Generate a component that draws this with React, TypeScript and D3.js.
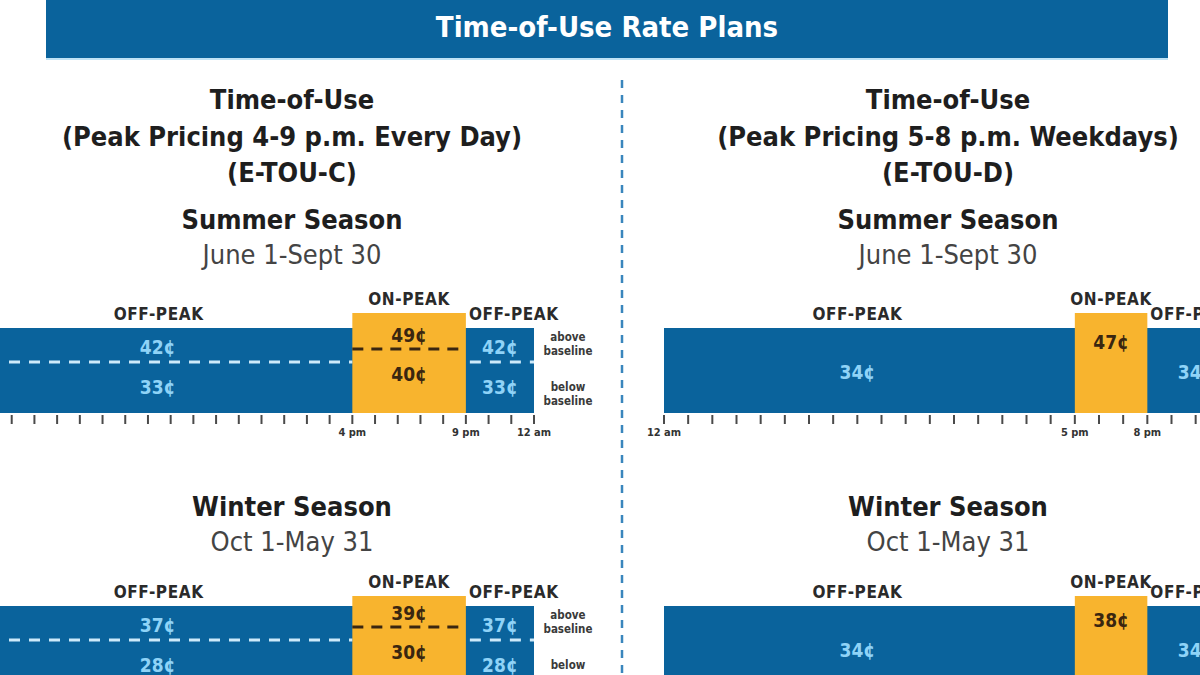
import React from "react";
import * as d3 from "d3";

// ---------- data ----------
const HOURS = d3.range(0, 25);
const PLAN_NAMES = ["Time-of-Use", "Time-of-Use"];
const PLAN_PEAK_TEXT = ["(Peak Pricing 4-9 p.m. Every Day)", "(Peak Pricing 5-8 p.m. Weekdays)"];
const PLAN_CODES = ["(E-TOU-C)", "(E-TOU-D)"];
const PEAK_START = [16, 17];
const PEAK_END = [21, 20];
const TICK_LABEL_HOURS = [[16, 21, 24], [0, 17, 20]];
const SEASONS = ["Summer Season", "Winter Season"];
const SEASON_DATES = ["June 1-Sept 30", "Oct 1-May 31"];
// E-TOU-C (tiered), per season [summer, winter], cents/kWh
const ETOUC_OFF_ABOVE = [42, 37];
const ETOUC_OFF_BELOW = [33, 28];
const ETOUC_ON_ABOVE = [49, 39];
const ETOUC_ON_BELOW = [40, 30];
// E-TOU-D, per season [summer, winter]
const ETOUD_OFF = [34, 34];
const ETOUD_ON = [47, 38];

// ---------- style ----------
const BLUE = "#0a639c";
const ORANGE = "#f8b42e";
const LIGHT = "#8fd3f7";
const DARK_ON_ORANGE = "#3a2610";
const FONT = "'DejaVu Sans Condensed', 'DejaVu Sans', sans-serif";

const W = 1200, H = 675;

const xScales = [
  d3.scaleLinear().domain([0, 24]).range([-11, 534]),
  d3.scaleLinear().domain([0, 24]).range([664, 1244]),
];
const PANEL_CX = [292, 948];
const BAR_TOP = [328, 606];
const ORANGE_TOP = [313, 596];
const BAR_H = 85;
const HEAD_Y = [220, 507];

const cents = (v: number) => `${v}¢`;
const hourLabel = (h: number) => (h === 0 || h === 24 ? "12 am" : h > 12 ? `${h - 12} pm` : `${h} am`);

function Bar({ plan, season }: { plan: number; season: number }) {
  const x = xScales[plan];
  const top = BAR_TOP[season];
  const bottom = top + BAR_H;
  const oTop = ORANGE_TOP[season];
  const ps = PEAK_START[plan], pe = PEAK_END[plan];
  const offMid1 = (x(0) + x(ps)) / 2 - 12;
  const offMid2 = (x(pe) + x(24)) / 2;
  const onMid = (x(ps) + x(pe)) / 2;
  const tiered = plan === 0;
  const valStyle = { fontFamily: FONT, fontWeight: 700, fontSize: 19 } as const;
  const lblStyle = { fontFamily: FONT, fontWeight: 700, fontSize: 17, fill: "#2a2a2a", letterSpacing: 0.6 } as const;
  const showTickLabels = bottom + 23 < H;
  const small = { fontFamily: FONT, fontWeight: 700, fontSize: 11.5, fill: "#3a3a3a" } as const;
  return (
    <g>
      <rect x={x(0)} y={top} width={x(24) - x(0)} height={BAR_H} fill={BLUE} />
      <rect x={x(ps)} y={oTop} width={x(pe) - x(ps)} height={bottom - oTop} fill={ORANGE} />
      {HOURS.map((h) => (
        <line key={h} x1={x(h)} x2={x(h)} y1={bottom + 2} y2={bottom + 11} stroke="#4a4a4a" strokeWidth={2} />
      ))}
      {showTickLabels &&
        TICK_LABEL_HOURS[plan].map((h) => (
          <text key={h} x={x(h)} y={bottom + 23} textAnchor="middle" style={{ fontFamily: FONT, fontWeight: 700, fontSize: 11, fill: "#333" }}>
            {hourLabel(h)}
          </text>
        ))}
      <text x={offMid1} y={top - 14} dy="0.35em" textAnchor="middle" style={lblStyle}>OFF-PEAK</text>
      <text x={onMid} y={oTop - 14} dy="0.35em" textAnchor="middle" style={lblStyle}>ON-PEAK</text>
      <text x={x(pe) + 3} y={top - 14} dy="0.35em" textAnchor="start" style={lblStyle}>OFF-PEAK</text>
      {tiered ? (
        <g>
          <line x1={x(0)} x2={x(ps)} y1={top + 34} y2={top + 34} stroke="#cdeafa" strokeWidth={3} strokeDasharray="11 9" />
          <line x1={x(pe)} x2={x(24)} y1={top + 34} y2={top + 34} stroke="#cdeafa" strokeWidth={3} strokeDasharray="11 9" strokeDashoffset={-4} />
          <line x1={x(ps)} x2={x(pe)} y1={top + 21} y2={top + 21} stroke={DARK_ON_ORANGE} strokeWidth={3} strokeDasharray="11 8" />
          {[offMid1 - 1, offMid2].map((cx, i) => (
            <g key={i}>
              <text x={cx} y={top + 19} dy="0.35em" textAnchor="middle" style={{ ...valStyle, fill: LIGHT }}>{cents(ETOUC_OFF_ABOVE[season])}</text>
              {top + 59 < H - 4 ? (
                <text x={cx} y={top + 59} dy="0.35em" textAnchor="middle" style={{ ...valStyle, fill: LIGHT }}>{cents(ETOUC_OFF_BELOW[season])}</text>
              ) : (
                <text x={cx} y={H - 3} textAnchor="middle" style={{ ...valStyle, fill: LIGHT }}>{cents(ETOUC_OFF_BELOW[season])}</text>
              )}
            </g>
          ))}
          <text x={onMid} y={top + 7} dy="0.35em" textAnchor="middle" style={{ ...valStyle, fill: DARK_ON_ORANGE }}>{cents(ETOUC_ON_ABOVE[season])}</text>
          <text x={onMid} y={top + 46} dy="0.35em" textAnchor="middle" style={{ ...valStyle, fill: DARK_ON_ORANGE }}>{cents(ETOUC_ON_BELOW[season])}</text>
          <g style={small}>
            <text x={568} y={top + 9} dy="0.35em" textAnchor="middle">above</text>
            <text x={568} y={top + 23} dy="0.35em" textAnchor="middle">baseline</text>
            <text x={568} y={Math.min(top + 59, H - 8)} dy="0.35em" textAnchor="middle">below</text>
            {top + 73 < H - 6 && (
              <text x={568} y={top + 73} dy="0.35em" textAnchor="middle">baseline</text>
            )}
          </g>
        </g>
      ) : (
        <g>
          {[offMid1, offMid2].map((cx, i) => (
            <text key={i} x={cx} y={top + 44} dy="0.35em" textAnchor="middle" style={{ ...valStyle, fill: LIGHT }}>{cents(ETOUD_OFF[season])}</text>
          ))}
          <text x={onMid} y={top + 14} dy="0.35em" textAnchor="middle" style={{ ...valStyle, fill: DARK_ON_ORANGE }}>{cents(ETOUD_ON[season])}</text>
        </g>
      )}
    </g>
  );
}

export default function App() {
  const headBold = { fontFamily: FONT, fontWeight: 700, fontSize: 27, fill: "#1e1e1e" } as const;
  const headReg = { fontFamily: FONT, fontWeight: 400, fontSize: 27, fill: "#444" } as const;
  return (
    <svg width={W} height={H} viewBox={`0 0 ${W} ${H}`} style={{ position: "absolute", left: 0, top: 0, background: "#fff" }}>
      <rect x={0} y={0} width={W} height={H} fill="#fff" />
      <rect x={46} y={-2} width={1122} height={60} fill={BLUE} />
      <line x1={46} x2={1168} y1={59} y2={59} stroke="#bfe3f6" strokeWidth={2} />
      <text x={607} y={27} dy="0.35em" textAnchor="middle" style={{ fontFamily: FONT, fontWeight: 700, fontSize: 29, fill: "#fff" }}>
        Time-of-Use Rate Plans
      </text>
      <line x1={622} x2={622} y1={80} y2={H} stroke="#3a86bd" strokeWidth={2.5} strokeDasharray="8 7" />
      {[0, 1].map((p) => (
        <g key={p}>
          <text x={PANEL_CX[p]} y={100} dy="0.35em" textAnchor="middle" style={headBold}>{PLAN_NAMES[p]}</text>
          <text x={PANEL_CX[p]} y={137} dy="0.35em" textAnchor="middle" style={headBold}>{PLAN_PEAK_TEXT[p]}</text>
          <text x={PANEL_CX[p]} y={173} dy="0.35em" textAnchor="middle" style={headBold}>{PLAN_CODES[p]}</text>
          {[0, 1].map((s) => (
            <g key={s}>
              <text x={PANEL_CX[p]} y={HEAD_Y[s]} dy="0.35em" textAnchor="middle" style={headBold}>{SEASONS[s]}</text>
              <text x={PANEL_CX[p]} y={HEAD_Y[s] + 35} dy="0.35em" textAnchor="middle" style={headReg}>{SEASON_DATES[s]}</text>
              <Bar plan={p} season={s} />
            </g>
          ))}
        </g>
      ))}
    </svg>
  );
}
